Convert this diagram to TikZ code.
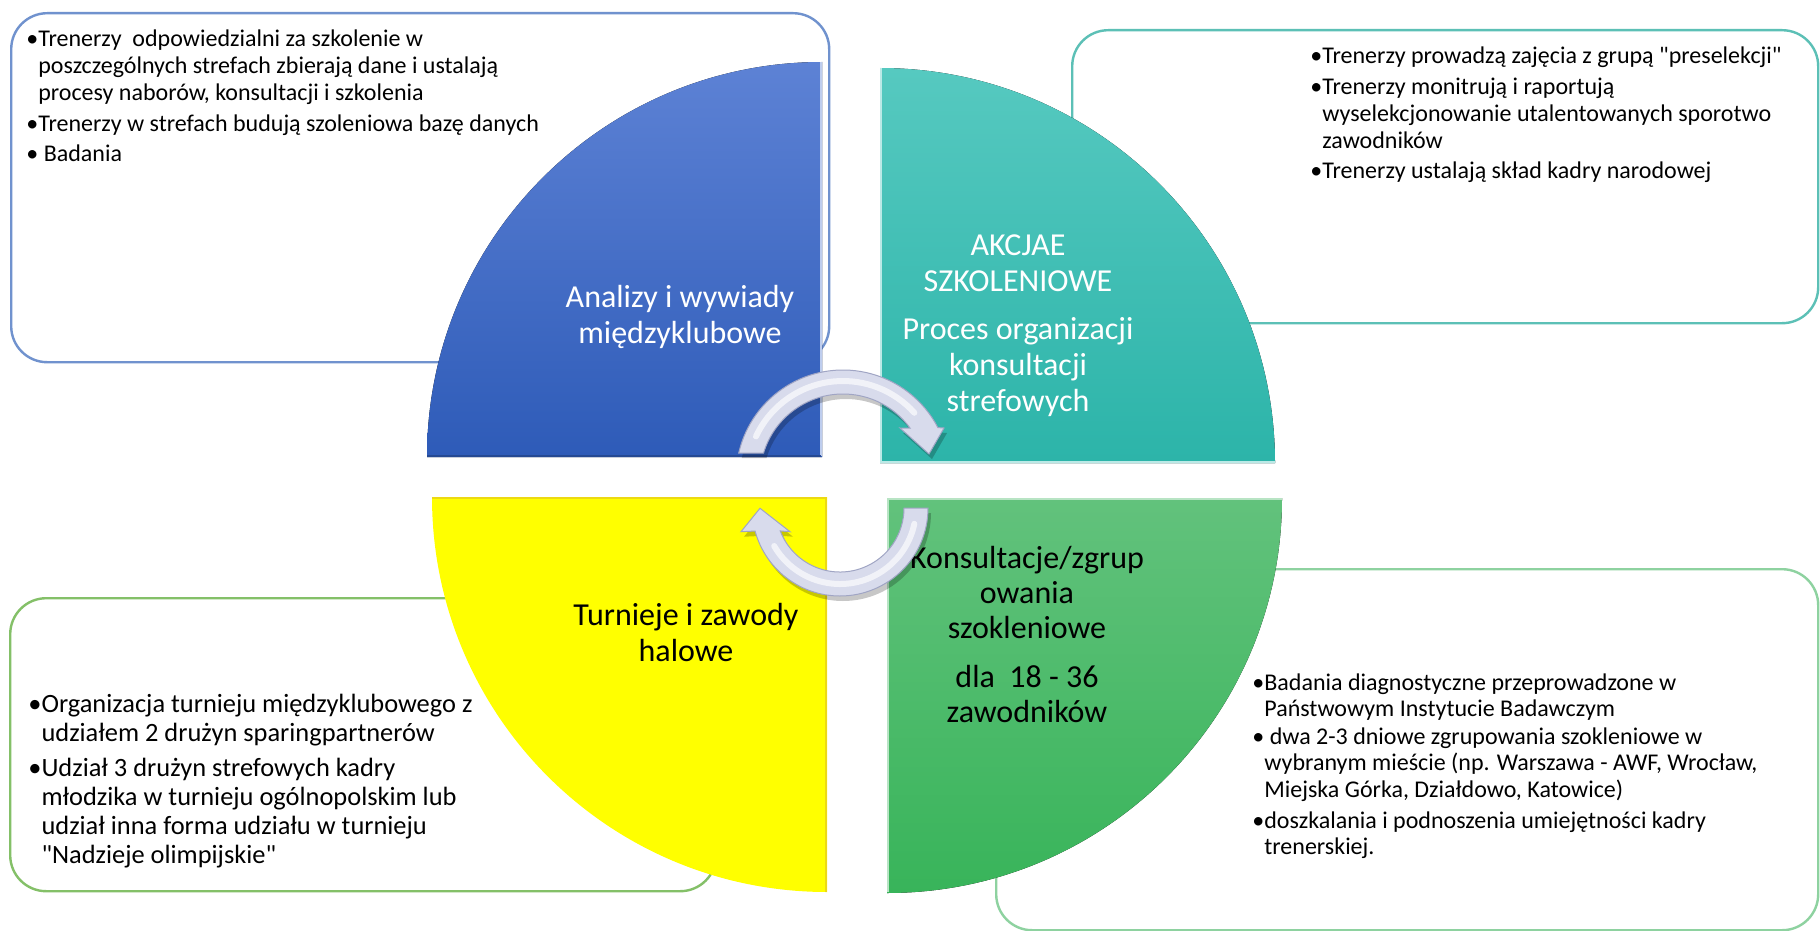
\documentclass[tikz,border=0pt]{standalone}
\usepackage{fontspec}
\usetikzlibrary{calc}
\newfontfamily\carl{Carlito}
\definecolor{blueT}{RGB}{93,130,213}
\definecolor{blueB}{RGB}{46,91,184}
\definecolor{tealT}{RGB}{86,201,192}
\definecolor{tealB}{RGB}{44,180,169}
\definecolor{greenT}{RGB}{98,194,124}
\definecolor{greenB}{RGB}{56,180,90}
\definecolor{yel}{RGB}{255,255,0}
\definecolor{tlline}{RGB}{112,146,206}
\definecolor{trline}{RGB}{92,192,182}
\definecolor{blline}{RGB}{132,192,104}
\definecolor{brline}{RGB}{142,210,160}
\definecolor{arrowfill}{RGB}{216,219,236}
\definecolor{arrowline}{RGB}{160,165,196}
\newcommand{\cblock}[1]{\vtop{\halign{\hfil##\hfil\cr#1\crcr}}}
\newcommand{\lblock}[1]{\vtop{\halign{##\hfil\cr#1\crcr}}}
\newcommand{\hb}{\phantom{•}}
\begin{document}
\begin{tikzpicture}[x=0.5pt,y=-0.5pt,
  infobox/.style={fill=white, line width=1.2pt, rounded corners=18pt, anchor=north west, inner sep=0pt},
  ctitle/.style={anchor=base, inner sep=0pt, font=\carl\fontsize{16}{18}\selectfont},
  btext/.style={anchor=base west, inner sep=0pt, font=\carl\fontsize{12}{13.35}\selectfont},
  bevel/.style={line width=0.8pt},
  arrowband/.style={fill=arrowfill, draw=arrowline, line width=0.5pt,
     preaction={fill=black, opacity=0.22, transform canvas={shift={(1.5pt,-2.5pt)}}}},
  shine/.style={white, line width=3pt, opacity=0.65, line cap=round}]
\useasboundingbox (0,0) rectangle (1820,931);
\fill[white] (0,0) rectangle (1820,931);

% text boxes
\node[infobox, draw=tlline, minimum width=409pt, minimum height=174.5pt] (tlbox) at (10,12) {};
\node[infobox, draw=trline, minimum width=373pt, minimum height=146.5pt] (trbox) at (1071,29) {};
\node[infobox, draw=blline, minimum width=353pt, minimum height=146.5pt] (blbox) at (9,597) {};
\node[infobox, draw=brline, minimum width=411pt, minimum height=180.5pt] (brbox) at (995,568) {};

% quadrants
\fill[top color=blueT, bottom color=blueB] (822,457) -- (427,457) arc[start angle=180, end angle=270, radius=395] -- cycle;
\fill[top color=tealT, bottom color=tealB] (880,463) -- (880,68) arc[start angle=270, end angle=360, radius=395] -- cycle;
\fill[top color=greenT, bottom color=greenB] (887,498) -- (1282,498) arc[start angle=0, end angle=90, radius=395] -- cycle;
\fill[yel] (827,497) -- (827,892) arc[start angle=90, end angle=180, radius=395] -- cycle;

% bevel edges
\draw[bevel, color=blueT!40!white] (821,62) -- (821,456);
\draw[bevel, color=blueB!80!black] (427,456) -- (821,456);
\draw[bevel, color=tealT!40!white] (881,68) -- (881,462) -- (1275,462);
\draw[bevel, color=greenT!45!white] (888,892) -- (888,499) -- (1282,499);
\draw[bevel, color=yel!70!brown] (432,498) -- (826,498) -- (826,892);

% quadrant titles
\node[ctitle, text=white] (tblue) at (680,307) {\cblock{Analizy i wywiady\cr międzyklubowe}};
\node[ctitle, text=white] (tteal) at (1018,255) {\cblock{AKCJAE\cr SZKOLENIOWE\cr\noalign{\vskip6pt}Proces organizacji\cr konsultacji\cr strefowych}};
\node[ctitle, text=black] (tyellow) at (686,625) {\cblock{Turnieje i zawody\cr halowe}};
\node[ctitle, text=black, font=\carl\fontsize{16}{17.5}\selectfont] (tgreen) at (1027,568) {\cblock{Konsultacje/zgrup\cr owania\cr szokleniowe\cr\noalign{\vskip7pt}dla\ \ 18 - 36\cr zawodników}};

% box texts
\node[btext] (ttl) at (26,47) {\lblock{•Trenerzy\ \ odpowiedzialni za szkolenie w\cr
\hb poszczególnych strefach zbierają dane i ustalają\cr
\hb procesy naborów, konsultacji i szkolenia\cr\noalign{\vskip2pt}
•Trenerzy w strefach budują szoleniowa bazę danych\cr\noalign{\vskip2pt}
• Badania}};
\node[btext] (ttr) at (1310,64) {\lblock{•Trenerzy prowadzą zajęcia z grupą "preselekcji"\cr\noalign{\vskip2pt}
•Trenerzy monitrują i raportują\cr
\hb wyselekcjonowanie utalentowanych sporotwo\cr
\hb zawodników\cr\noalign{\vskip2pt}
•Trenerzy ustalają skład kadry narodowej}};
\node[btext, font=\carl\fontsize{13.2}{14.5}\selectfont] (tbl) at (28,712) {\lblock{•Organizacja turnieju międzyklubowego z\cr
\hb udziałem 2 drużyn sparingpartnerów\cr\noalign{\vskip3pt}
•Udział 3 drużyn strefowych kadry\cr
\hb młodzika w turnieju ogólnopolskim lub\cr
\hb udział inna forma udziału w turnieju\cr
\hb "Nadzieje olimpijskie"}};
\node[btext] (tbr) at (1252,690) {\lblock{•Badania diagnostyczne przeprowadzone w\cr
\hb Państwowym Instytucie Badawczym\cr\noalign{\vskip0.3pt}
• dwa 2-3 dniowe zgrupowania szokleniowe w\cr
\hb wybranym mieście (np. Warszawa - AWF, Wrocław,\cr
\hb Miejska Górka, Działdowo, Katowice)\cr\noalign{\vskip2pt}
•doszkalania i podnoszenia umiejętności kadry\cr
\hb trenerskiej.}};

% circular arrows
\coordinate (c1) at (843,477);
\coordinate (c2) at (840,508);
\path[arrowband] ($(c1)+(192.9:107)$) arc[start angle=192.9, end angle=332.5, radius=107]
  -- (944,428) -- (929,454) -- (900,428)
  -- ($(c1)+(324:83)$) arc[start angle=324, end angle=196.7, radius=83] -- cycle;
\draw[shine] ($(c1)+(205:96)$) arc[start angle=205, end angle=318, radius=96];
\path[arrowband] ($(c2)+(0:88)$) arc[start angle=0, end angle=164.8, radius=88]
  -- (741,531.7) -- (760,508.3) -- (790,531.7)
  -- ($(c2)+(159:64)$) arc[start angle=159, end angle=0, radius=64] -- cycle;
\draw[shine] ($(c2)+(12:76)$) arc[start angle=12, end angle=150, radius=76];
\end{tikzpicture}
\end{document}
